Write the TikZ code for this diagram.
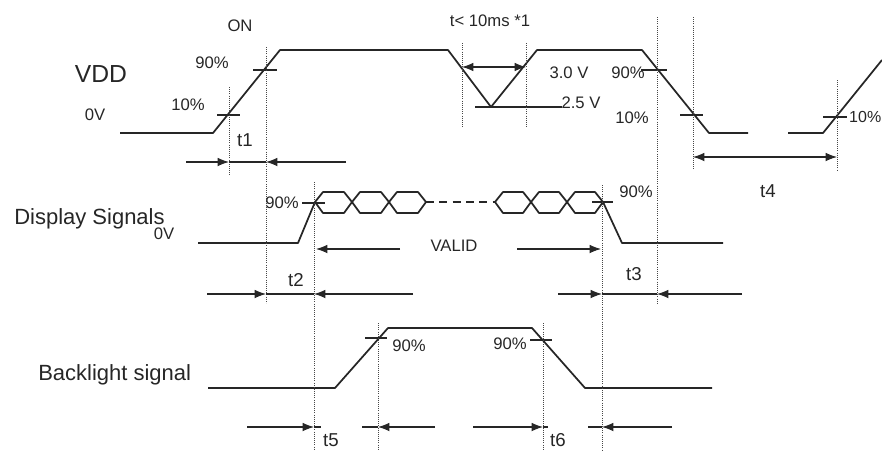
\documentclass[tikz,border=0pt]{standalone}
\usepackage{fontspec}
\setmainfont{Liberation Sans}
\usepackage{xcolor}
\usepackage{tikz}
\usetikzlibrary{arrows.meta}
\definecolor{ink}{RGB}{38,38,38}

\begin{document}
\begin{tikzpicture}[x=0.75pt,y=0.75pt,yscale=-1,xscale=1,
  wave/.style={draw=ink,line width=1.3pt,line join=round},
  tickln/.style={draw=ink,line width=0.9pt},
  guide/.style={draw=ink!85,densely dotted,line width=0.6pt},
  dim/.style={draw=ink,line width=0.8pt,-{Latex[length=8.5pt,width=6.5pt]}},
  dimboth/.style={draw=ink,line width=0.8pt,{Latex[length=8.5pt,width=6.5pt]}-{Latex[length=8.5pt,width=6.5pt]}},
  dimln/.style={draw=ink,line width=0.8pt},
  lbl/.style={inner sep=0.75pt,text=ink,font=\fontsize{12.5}{14}\selectfont},
  tlbl/.style={inner sep=0.75pt,text=ink,font=\fontsize{14}{16}\selectfont},
  sig/.style={inner sep=0.75pt,text=ink,font=\fontsize{16.5}{18}\selectfont}]
\useasboundingbox (0,0) rectangle (882,450);

%Waveform VDD
\draw [wave] (120,133) -- (213,133) -- (280,50) -- (448,50) -- (491,107) -- (537,50) -- (642,50) -- (709,133) -- (748,133) ;
\draw [wave] (788,133) -- (823,133) -- (882,60) ;
%Straight Lines 2.5 V level
\draw [tickln] (475,107) -- (562,107) ;

%Waveform Display Signals
\draw [wave] (198,243) -- (298,243) -- (315,202) ;
\foreach \x in {315,352,389}
  \draw [wave] (\x,202) -- (\x+8,192) -- (\x+29,192) -- (\x+37,202) -- (\x+29,213) -- (\x+8,213) -- cycle ;
\draw [wave,dash pattern=on 6pt off 4pt] (426,202) -- (495,202) ;
\foreach \x in {495,531,567}
  \draw [wave] (\x,202) -- (\x+8,192) -- (\x+28,192) -- (\x+36,202) -- (\x+28,213) -- (\x+8,213) -- cycle ;
\draw [wave] (603,202) -- (622,243) -- (723,243) ;

%Waveform Backlight signal
\draw [wave] (208,388) -- (335,388) -- (388,328) -- (532,328) -- (585,388) -- (712,388) ;

%Level marks
\foreach \a/\b/\y in {217/240/115, 253/277/70, 641/667/70, 680/703/115, 823/847/117, 302/325/203, 592/613/202, 365/387/338, 530/552/340}
  \draw [tickln] (\a,\y) -- (\b,\y) ;

%Dotted guides
\foreach \x/\a/\b in {229/87/176, 266/47/303, 314/182/450, 378/323/450, 462/43/127, 526/43/127, 657/17/303, 693/17/170, 837/80/170, 602/185/450, 543/323/450}
  \draw [guide] (\x,\a) -- (\x,\b) ;

%Dimension t1
\coordinate (t1a) at (229,162) ; \coordinate (t1b) at (266,162) ;
\draw [dim] (186,162) -- (t1a) ;
\draw [dimln] (t1a) -- (t1b) ;
\draw [dim] (346,162) -- (t1b) ;
%Dimension t < 10ms
\coordinate (dipa) at (462,67) ; \coordinate (dipb) at (526,67) ;
\draw [dimboth] (dipa) -- (dipb) ;
%Dimension t4
\coordinate (t4a) at (693,157) ; \coordinate (t4b) at (837,157) ;
\draw [dimboth] (t4a) -- (t4b) ;
%Dimension VALID
\draw [dim] (400,249) -- (316,249) ;
\draw [dim] (517,249) -- (601,249) ;
%Dimension t2
\coordinate (t2a) at (266,294) ; \coordinate (t2b) at (314,294) ;
\draw [dim] (207,294) -- (t2a) ;
\draw [dimln] (t2a) -- (t2b) ;
\draw [dim] (413,294) -- (t2b) ;
%Dimension t3
\coordinate (t3a) at (602,294) ; \coordinate (t3b) at (657,294) ;
\draw [dim] (558,294) -- (t3a) ;
\draw [dimln] (t3a) -- (t3b) ;
\draw [dim] (742,294) -- (t3b) ;
%Dimension t5
\coordinate (t5a) at (314,427) ; \coordinate (t5b) at (378,427) ;
\draw [dim] (247,427) -- (t5a) ;
\draw [dimln] (t5a) -- (321,427) ;
\draw [dim] (435,427) -- (t5b) ;
\draw [dimln] (t5b) -- (362,427) ;
%Dimension t6
\coordinate (t6a) at (543,427) ; \coordinate (t6b) at (602,427) ;
\draw [dim] (473,427) -- (t6a) ;
\draw [dimln] (t6a) -- (548,427) ;
\draw [dim] (672,427) -- (t6b) ;
\draw [dimln] (t6b) -- (588,427) ;

% Text Node
\draw (240,26) node [lbl] (on) {ON};
% Text Node
\draw (101,74) node [sig,font=\fontsize{18.5}{20}\selectfont] (vdd) {VDD};
% Text Node
\draw (95,115) node [lbl] (vzero) {0V};
% Text Node
\draw (212,63) node [lbl] (pa) {90\%};
% Text Node
\draw (188,105) node [lbl] (pb) {10\%};
% Text Node
\draw (245,140) node [tlbl] (tone) {t1};
% Text Node
\draw (490,21) node [lbl] (tdip) {t< 10ms *1};
% Text Node
\draw (569,73) node [lbl] (vhi) {3.0 V};
% Text Node
\draw (628,73) node [lbl] (pc) {90\%};
% Text Node
\draw (581,103) node [lbl] (vlo) {2.5 V};
% Text Node
\draw (632,118) node [lbl] (pd) {10\%};
% Text Node
\draw (881.5,117) node [lbl,inner sep=0pt,anchor=east,font=\fontsize{12}{14}\selectfont] (pe) {10\%};
% Text Node
\draw (768,191) node [tlbl] (tfour) {t4};
% Text Node
\draw (13,219) node [sig,anchor=west] (disp) {Display Signals};
% Text Node
\draw (164,234) node [lbl] (dzero) {0V};
% Text Node
\draw (282,203) node [lbl] (pf) {90\%};
% Text Node
\draw (636,192) node [lbl] (pg) {90\%};
% Text Node
\draw (454,246) node [lbl] (valid) {VALID};
% Text Node
\draw (296,280) node [tlbl] (ttwo) {t2};
% Text Node
\draw (634,274) node [tlbl] (tthree) {t3};
% Text Node
\draw (37,375) node [sig,anchor=west] (back) {Backlight signal};
% Text Node
\draw (409,346) node [lbl] (ph) {90\%};
% Text Node
\draw (510,344) node [lbl] (pi) {90\%};
% Text Node
\draw (331,440) node [tlbl] (tfive) {t5};
% Text Node
\draw (558,440) node [tlbl] (tsix) {t6};

\end{tikzpicture}
\end{document}
